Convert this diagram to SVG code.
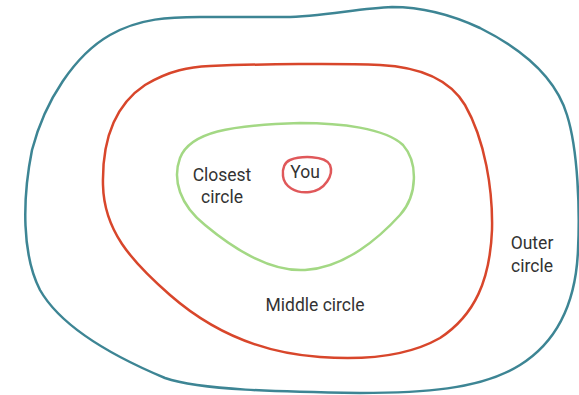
<svg xmlns="http://www.w3.org/2000/svg" width="579" height="395" viewBox="0 0 579 395">
<style>
.ring{fill:none;stroke-width:2.5;stroke-linejoin:round}
.lbl{font-family:Roboto,"Liberation Sans",sans-serif;font-size:17.5px;fill:#333;text-anchor:middle}
</style>
<rect width="579" height="395" fill="#fff"/>
<g id="outer">
<path class="ring" stroke="#3d8594" d="M 200 17 L 285 17 C 320 17, 360 8, 392 7 C 420 7, 450 14, 480 28 C 520 48, 555 75, 567 115 C 578 150, 580 210, 578 250 C 576 300, 560 340, 520 365 C 480 390, 420 393, 360 393 C 280 392, 200 390, 165 378 C 110 355, 60 325, 40 290 C 22 255, 22 200, 32 150 C 45 100, 75 55, 110 35 C 140 18, 170 17, 200 17 Z"/>
<text class="lbl" x="532" y="249">Outer</text>
<text class="lbl" x="532" y="272">circle</text>
</g>
<g id="middle">
<path class="ring" stroke="#d8462b" d="M 210 66 C 260 64, 340 63, 380 65 C 420 67, 450 80, 465 105 C 485 140, 493 190, 492 230 C 490 280, 475 315, 440 338 C 405 358, 360 360, 320 357 C 260 353, 210 330, 170 295 C 130 260, 104 230, 103 185 C 102 140, 115 105, 145 85 C 170 70, 190 67, 210 66 Z"/>
<text class="lbl" x="315" y="311">Middle circle</text>
</g>
<g id="closest">
<path class="ring" stroke="#a3d884" d="M 300 123 C 340 123, 385 128, 403 145 C 418 162, 418 195, 400 215 C 380 237, 345 268, 305 270 C 270 272, 235 250, 205 225 C 180 205, 172 180, 180 158 C 190 132, 230 125, 300 123 Z"/>
<text class="lbl" x="222" y="181">Closest</text>
<text class="lbl" x="222" y="203">circle</text>
</g>
<g id="you">
<path class="ring" stroke="#e0585a" d="M 290 160 C 300 156, 325 155, 330 165 C 334 175, 325 190, 310 192 C 295 194, 284 186, 283 176 C 282 168, 285 162, 290 160 Z"/>
<text class="lbl" x="305" y="178">You</text>
</g>
<g id="connectors"></g>
</svg>
